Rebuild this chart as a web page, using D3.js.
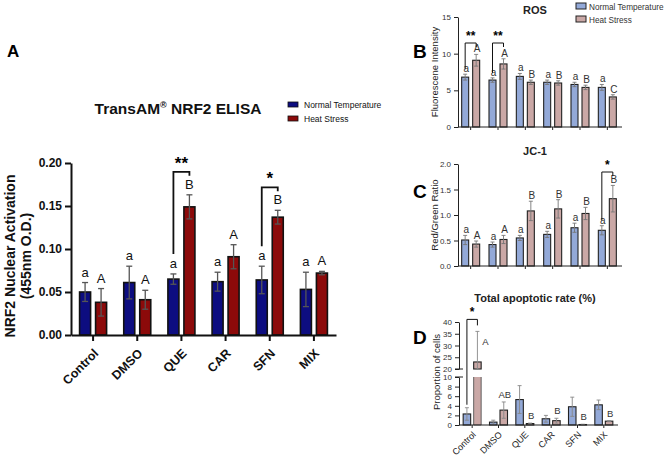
<!DOCTYPE html>
<html>
<head>
<meta charset="utf-8">
<script src="https://cdn.jsdelivr.net/npm/d3@7"></script>
<style>
  body { margin: 0; background: #fff; }
  svg { font-family: "Liberation Sans", Arial, sans-serif; }
</style>
</head>
<body>
<svg width="665" height="457"></svg>
<script>
'use strict';

// shared categories
const groups = ['Control', 'DMSO', 'QUE', 'CAR', 'SFN', 'MIX'];
const series = ['Normal Temperature', 'Heat Stress'];

// A - TransAM NRF2 ELISA
const nrfNormal = [0.050, 0.061, 0.065, 0.062, 0.064, 0.053];
const nrfNormalSd = [0.011, 0.019, 0.006, 0.011, 0.016, 0.020];
const nrfHeat = [0.038, 0.041, 0.149, 0.091, 0.137, 0.072];
const nrfHeatSd = [0.016, 0.011, 0.014, 0.014, 0.008, 0.002];
const nrfNormalLetters = ['a', 'a', 'a', 'a', 'a', 'a'];
const nrfHeatLetters = ['A', 'A', 'B', 'A', 'B', 'A'];
const nrfTicks = [0, 0.05, 0.10, 0.15, 0.20];
const nrfSig = [['QUE', '**'], ['SFN', '*']];

// B - ROS
const rosNormal = [6.8, 6.4, 6.9, 6.1, 5.8, 5.4];
const rosNormalSd = [0.4, 0.3, 0.4, 0.3, 0.3, 0.4];
const rosHeat = [9.1, 8.6, 6.1, 6.0, 5.4, 4.1];
const rosHeatSd = [0.8, 0.7, 0.3, 0.3, 0.3, 0.3];
const rosNormalLetters = ['a', 'a', 'a', 'a', 'a', 'a'];
const rosHeatLetters = ['A', 'A', 'B', 'B', 'B', 'C'];
const rosTicks = [0, 5, 10, 15];
const rosSig = [['Control', '**'], ['DMSO', '**']];

// C - JC-1
const jcNormal = [0.51, 0.42, 0.55, 0.62, 0.75, 0.70];
const jcNormalSd = [0.09, 0.05, 0.05, 0.06, 0.09, 0.09];
const jcHeat = [0.43, 0.52, 1.08, 1.12, 1.03, 1.32];
const jcHeatSd = [0.06, 0.08, 0.19, 0.18, 0.12, 0.26];
const jcNormalLetters = ['a', 'a', 'a', 'a', 'a', 'a'];
const jcHeatLetters = ['A', 'A', 'B', 'B', 'B', 'B'];
const jcTicks = [0, 0.5, 1.0, 1.5, 2.0];
const jcSig = [['MIX', '*']];

// D - Total apoptotic rate (broken axis)
const apoNormal = [2.3, 0.6, 5.3, 1.3, 3.8, 4.2];
const apoNormalSd = [1.3, 0.4, 2.9, 0.7, 2.0, 1.0];
const apoHeat = [23, 3.1, 0.3, 0.9, 0.1, 0.8];
const apoHeatSd = [13, 1.7, 0.1, 0.5, 0.05, 0.1];
const apoHeatLetters = ['A', 'AB', 'B', 'B', 'B', 'B'];
const apoLowTicks = [0, 2, 4, 6, 8, 10];
const apoHighTicks = [20, 25, 30, 35, 40];
const apoSig = [['Control', '*']];

const svg = d3.select('svg');

const rows = (vals, sds, letters) => groups.map((g, i) => ({ g, v: vals[i], sd: sds[i], letter: letters ? letters[i] : '' }));

// draws error bar (full, goes inside the bar too)
const errBar = (sel, cx, y0, y1, cap, color, w) => {
    sel.append('line').attr('x1', cx).attr('x2', cx).attr('y1', y0).attr('y2', y1)
        .attr('stroke', color).attr('stroke-width', w);
    [y0, y1].forEach((yy) => {
        sel.append('line').attr('x1', cx - cap / 2).attr('x2', cx + cap / 2).attr('y1', yy).attr('y2', yy)
            .attr('stroke', color).attr('stroke-width', w);
    });
};

const bracket = (sel, xl, xr, yl, yt, yr, label, size, w) => {
    sel.append('path').attr('d', `M${xl},${yl}V${yt}H${xr}V${yr}`)
        .attr('fill', 'none').attr('stroke', '#111').attr('stroke-width', w);
    sel.append('text').attr('x', (xl + xr) / 2).attr('y', yt - 3).attr('text-anchor', 'middle')
        .attr('font-size', size).attr('font-weight', 'bold').text(label);
};

// ================= Panel A =================
{
    const g = svg.append('g');
    const x = d3.scaleBand().domain(groups).range([71, 336]);
    const sub = d3.scaleBand().domain(series).range([-13.5, 13.5]).paddingInner(0.3125);
    const y = d3.scaleLinear().domain([0, 0.2]).range([335, 163]);
    const colors = { 'Normal Temperature': '#0d0d80', 'Heat Stress': '#8c0a0a' };
    const data = {
        'Normal Temperature': rows(nrfNormal, nrfNormalSd, nrfNormalLetters),
        'Heat Stress': rows(nrfHeat, nrfHeatSd, nrfHeatLetters),
    };

    series.forEach((s) => {
        data[s].forEach((d) => {
            const cx = x(d.g) + x.bandwidth() / 2 + sub(s) + sub.bandwidth() / 2;
            g.append('rect').attr('x', cx - sub.bandwidth() / 2).attr('y', y(d.v))
                .attr('width', sub.bandwidth()).attr('height', y(0) - y(d.v))
                .attr('fill', colors[s]).attr('stroke', '#111').attr('stroke-width', 1.6);
            errBar(g, cx, y(d.v - d.sd), y(d.v + d.sd), 6, '#555', 1.3);
            g.append('text').attr('x', cx).attr('y', y(d.v + d.sd) - 6).attr('text-anchor', 'middle')
                .attr('font-size', 13).attr('fill', '#111').text(d.letter);
        });
    });

    const ay = g.append('g').attr('transform', 'translate(71,0)')
        .call(d3.axisLeft(y).tickValues(nrfTicks).tickFormat(d3.format('.2f')).tickSize(6).tickSizeOuter(0));
    ay.selectAll('text').attr('font-size', 12).attr('font-weight', 'bold').attr('fill', '#111')
        .attr('font-family', '"Liberation Sans", Arial, sans-serif');
    ay.selectAll('line,path').attr('stroke', '#111').attr('stroke-width', 2);

    const ax = g.append('g').attr('transform', 'translate(0,335)')
        .call(d3.axisBottom(x).tickSize(6).tickSizeOuter(0));
    ax.selectAll('line,path').attr('stroke', '#111').attr('stroke-width', 2);
    ax.selectAll('text').attr('font-size', 12.5).attr('font-weight', 'bold').attr('fill', '#111')
        .attr('font-family', '"Liberation Sans", Arial, sans-serif')
        .attr('x', 0).attr('y', 0).attr('dy', '0.35em')
        .attr('transform', 'translate(3,16) rotate(-45)').style('text-anchor', 'end');

    // significance brackets
    nrfSig.forEach(([grp, lab]) => {
        const i = groups.indexOf(grp);
        const xl = x(grp) + x.bandwidth() / 2 + sub(series[0]) + sub.bandwidth() / 2;
        const xr = x(grp) + x.bandwidth() / 2 + sub(series[1]) + sub.bandwidth() / 2;
        const yt = y(nrfHeat[i] + nrfHeatSd[i]) - 23;
        bracket(g, xl, xr, y(nrfNormal[i] + nrfNormalSd[i]) - 20, yt, yt + 4, lab, 17, 1.8);
    });

    // title, legend, labels
    g.append('text').attr('x', 178).attr('y', 114).attr('text-anchor', 'middle')
        .attr('font-size', 15.5).attr('font-weight', 'bold').attr('fill', '#111')
        .html('TransAM<tspan font-size="9" dy="-6">®</tspan><tspan dy="6"> NRF2 ELISA</tspan>');
    series.forEach((s, i) => {
        g.append('rect').attr('x', 288).attr('y', 102 + i * 14).attr('width', 10).attr('height', 5)
            .attr('fill', colors[s]).attr('stroke', '#111').attr('stroke-width', 0.8);
        g.append('text').attr('x', 304).attr('y', 108 + i * 14).attr('font-size', 8.5).attr('fill', '#111').text(s);
    });
    g.append('text').attr('x', 7).attr('y', 57).attr('font-size', 17).attr('font-weight', 'bold').text('A');
    const yl = g.append('text').attr('transform', 'translate(15,256) rotate(-90)').attr('text-anchor', 'middle')
        .attr('font-size', 14).attr('font-weight', 'bold').attr('fill', '#111');
    yl.append('tspan').attr('x', 0).attr('y', 0).text('NRF2 Nuclear Activation');
    yl.append('tspan').attr('x', 0).attr('y', 16).text('(455nm O.D.)');
}

// ================= Panels B, C =================
const blueB = '#93a9d8';
const pinkB = '#caa8a6';

const smallPanel = (cfg) => {
    const g = svg.append('g');
    const x = d3.scaleBand().domain(groups).range([457, 621]);
    const sub = d3.scaleBand().domain(series).range([-9, 9]).paddingInner(4 / 11);
    const y = d3.scaleLinear().domain(cfg.domain).range(cfg.range);
    const colors = { 'Normal Temperature': blueB, 'Heat Stress': pinkB };
    const data = {
        'Normal Temperature': rows(cfg.n, cfg.nSd, cfg.nL),
        'Heat Stress': rows(cfg.h, cfg.hSd, cfg.hL),
    };
    const cxOf = (grp, s) => x(grp) + x.bandwidth() / 2 + sub(s) + sub.bandwidth() / 2;

    series.forEach((s) => {
        data[s].forEach((d) => {
            const cx = cxOf(d.g, s);
            g.append('rect').attr('x', cx - sub.bandwidth() / 2).attr('y', y(d.v))
                .attr('width', sub.bandwidth()).attr('height', y(0) - y(d.v))
                .attr('fill', colors[s]).attr('stroke', '#222').attr('stroke-width', 1.1);
            errBar(g, cx, y(d.v - d.sd), y(d.v + d.sd), 4, '#777', 0.9);
            g.append('text').attr('x', cx + 1).attr('y', y(d.v + d.sd) - 2).attr('text-anchor', 'middle')
                .attr('font-size', 10).attr('fill', '#333').text(d.letter);
        });
    });

    const ay = g.append('g').attr('transform', 'translate(458,0)')
        .call(d3.axisLeft(y).tickValues(cfg.ticks).tickFormat(cfg.fmt).tickSize(4).tickSizeOuter(0));
    ay.selectAll('text').attr('font-size', 8).attr('fill', '#333')
        .attr('font-family', '"Liberation Sans", Arial, sans-serif');
    ay.selectAll('line,path').attr('stroke', '#222');
    const ax = g.append('g').attr('transform', `translate(0,${cfg.range[0]})`)
        .call(d3.axisBottom(x).tickSize(3).tickSizeOuter(0).tickFormat(''));
    ax.select('.domain').attr('d', `M458,0H622`);
    ax.selectAll('line,path').attr('stroke', '#222');

    cfg.sig.forEach(([grp, lab]) => {
        const i = groups.indexOf(grp);
        const yt = cfg.bracketTop;
        bracket(g, cxOf(grp, series[0]), cxOf(grp, series[1]),
            y(cfg.n[i] + cfg.nSd[i]) - 5, yt, yt + 4, lab, 12, 1);
    });

    g.append('text').attr('x', 535).attr('y', cfg.titleY).attr('text-anchor', 'middle')
        .attr('font-size', 11).attr('font-weight', 'bold').attr('fill', '#222').text(cfg.title);
    g.append('text').attr('x', 413).attr('y', cfg.letterY).attr('font-size', 19).attr('font-weight', 'bold').text(cfg.letter);
    g.append('text').attr('transform', `translate(438,${(cfg.range[0] + cfg.range[1]) / 2}) rotate(-90)`)
        .attr('text-anchor', 'middle').attr('font-size', 9.5).attr('fill', '#222').text(cfg.ylabel);
};

smallPanel({
    n: rosNormal, nSd: rosNormalSd, nL: rosNormalLetters,
    h: rosHeat, hSd: rosHeatSd, hL: rosHeatLetters,
    domain: [0, 15], range: [127, 17], ticks: rosTicks, fmt: d3.format('d'),
    sig: rosSig, bracketTop: 43, title: 'ROS', titleY: 14, letter: 'B', letterY: 58,
    ylabel: 'Fluorescene Intensity',
});

smallPanel({
    n: jcNormal, nSd: jcNormalSd, nL: jcNormalLetters,
    h: jcHeat, hSd: jcHeatSd, hL: jcHeatLetters,
    domain: [0, 2], range: [266, 164], ticks: jcTicks, fmt: d3.format('.1f'),
    sig: jcSig, bracketTop: 172, title: 'JC-1', titleY: 155, letter: 'C', letterY: 198,
    ylabel: 'Red/Green Ratio',
});

// legend for B/C/D
series.forEach((s, i) => {
    svg.append('rect').attr('x', 576).attr('y', 3 + i * 13).attr('width', 10).attr('height', 6)
        .attr('fill', i ? pinkB : blueB).attr('stroke', '#222').attr('stroke-width', 1);
    svg.append('text').attr('x', 589).attr('y', 9.5 + i * 13).attr('font-size', 8.2).attr('fill', '#333').text(s);
});

// ================= Panel D =================
{
    const g = svg.append('g');
    const x = d3.scaleBand().domain(groups).range([459, 617]);
    const sub = d3.scaleBand().domain(series).range([-9, 9]).paddingInner(3 / 10.5);
    const yLow = d3.scaleLinear().domain([0, 10]).range([425, 377]);
    const yHigh = d3.scaleLinear().domain([20, 40]).range([369, 322]);
    const colors = { 'Normal Temperature': blueB, 'Heat Stress': pinkB };
    const data = {
        'Normal Temperature': rows(apoNormal, apoNormalSd, null),
        'Heat Stress': rows(apoHeat, apoHeatSd, apoHeatLetters),
    };
    const cxOf = (grp, s) => x(grp) + x.bandwidth() / 2 + sub(s) + sub.bandwidth() / 2;
    const bw = sub.bandwidth();

    series.forEach((s) => {
        data[s].forEach((d) => {
            const cx = cxOf(d.g, s);
            if (d.v > 10) {
                g.append('path')
                    .attr('d', `M${cx - bw / 2},${yLow(10)}V${yLow(0)}H${cx + bw / 2}V${yLow(10)}`)
                    .attr('fill', colors[s]).attr('stroke', '#444').attr('stroke-width', 0.8);
                g.append('rect').attr('x', cx - bw / 2).attr('y', yHigh(d.v)).attr('width', bw)
                    .attr('height', yHigh(20) - yHigh(d.v)).attr('fill', colors[s])
                    .attr('stroke', '#222').attr('stroke-width', 1.1);
                errBar(g, cx, yHigh(Math.max(d.v - d.sd, 20)), yHigh(d.v + d.sd), 4, '#888', 0.9);
                g.append('text').attr('x', cx + 8).attr('y', yHigh(d.v + d.sd * 0.55)).attr('text-anchor', 'middle')
                    .attr('font-size', 9.5).attr('fill', '#333').text(d.letter);
            } else {
                g.append('rect').attr('x', cx - bw / 2).attr('y', yLow(d.v)).attr('width', bw)
                    .attr('height', yLow(0) - yLow(d.v)).attr('fill', colors[s])
                    .attr('stroke', '#222').attr('stroke-width', 1.1);
                errBar(g, cx, yLow(Math.max(d.v - d.sd, 0)), yLow(d.v + d.sd), 4, '#888', 0.9);
                g.append('text').attr('x', cx + 1).attr('y', yLow(d.v + d.sd) - 4).attr('text-anchor', 'middle')
                    .attr('font-size', 9.5).attr('fill', '#333').text(d.letter);
            }
        });
    });

    [[yLow, apoLowTicks], [yHigh, apoHighTicks]].forEach(([sc, tv]) => {
        const ay = g.append('g').attr('transform', 'translate(459,0)')
            .call(d3.axisLeft(sc).tickValues(tv).tickSize(4).tickSizeOuter(0));
        ay.selectAll('text').attr('font-size', 8).attr('fill', '#333')
            .attr('font-family', '"Liberation Sans", Arial, sans-serif');
        ay.selectAll('line,path').attr('stroke', '#222');
    });
    // break marks
    [yLow(10), yHigh(20)].forEach((yy) => {
        g.append('line').attr('x1', 455).attr('x2', 463).attr('y1', yy).attr('y2', yy).attr('stroke', '#222');
    });

    const ax = g.append('g').attr('transform', 'translate(0,425)')
        .call(d3.axisBottom(x).tickSize(3).tickSizeOuter(0));
    ax.select('.domain').attr('d', 'M459,0H618');
    ax.selectAll('line,path').attr('stroke', '#222');
    ax.selectAll('text').attr('font-size', 9).attr('fill', '#222')
        .attr('font-family', '"Liberation Sans", Arial, sans-serif')
        .attr('x', 0).attr('y', 0).attr('dy', '0.35em')
        .attr('transform', 'translate(2,8) rotate(-45)').style('text-anchor', 'end');

    apoSig.forEach(([grp, lab]) => {
        const i = groups.indexOf(grp);
        const yt = yHigh(apoHeat[i] + apoHeatSd[i]) - 12;
        bracket(g, cxOf(grp, series[0]), cxOf(grp, series[1]),
            yLow(apoNormal[i] + apoNormalSd[i]) - 3, yt, yt + 6, lab, 12, 1);
    });

    g.append('text').attr('x', 535).attr('y', 302).attr('text-anchor', 'middle')
        .attr('font-size', 11).attr('font-weight', 'bold').attr('fill', '#222').text('Total apoptotic rate (%)');
    g.append('text').attr('x', 413).attr('y', 344).attr('font-size', 19).attr('font-weight', 'bold').text('D');
    g.append('text').attr('transform', 'translate(440,372) rotate(-90)')
        .attr('text-anchor', 'middle').attr('font-size', 9.5).attr('fill', '#222').text('Proportion of cells');
}
</script>
</body>
</html>
